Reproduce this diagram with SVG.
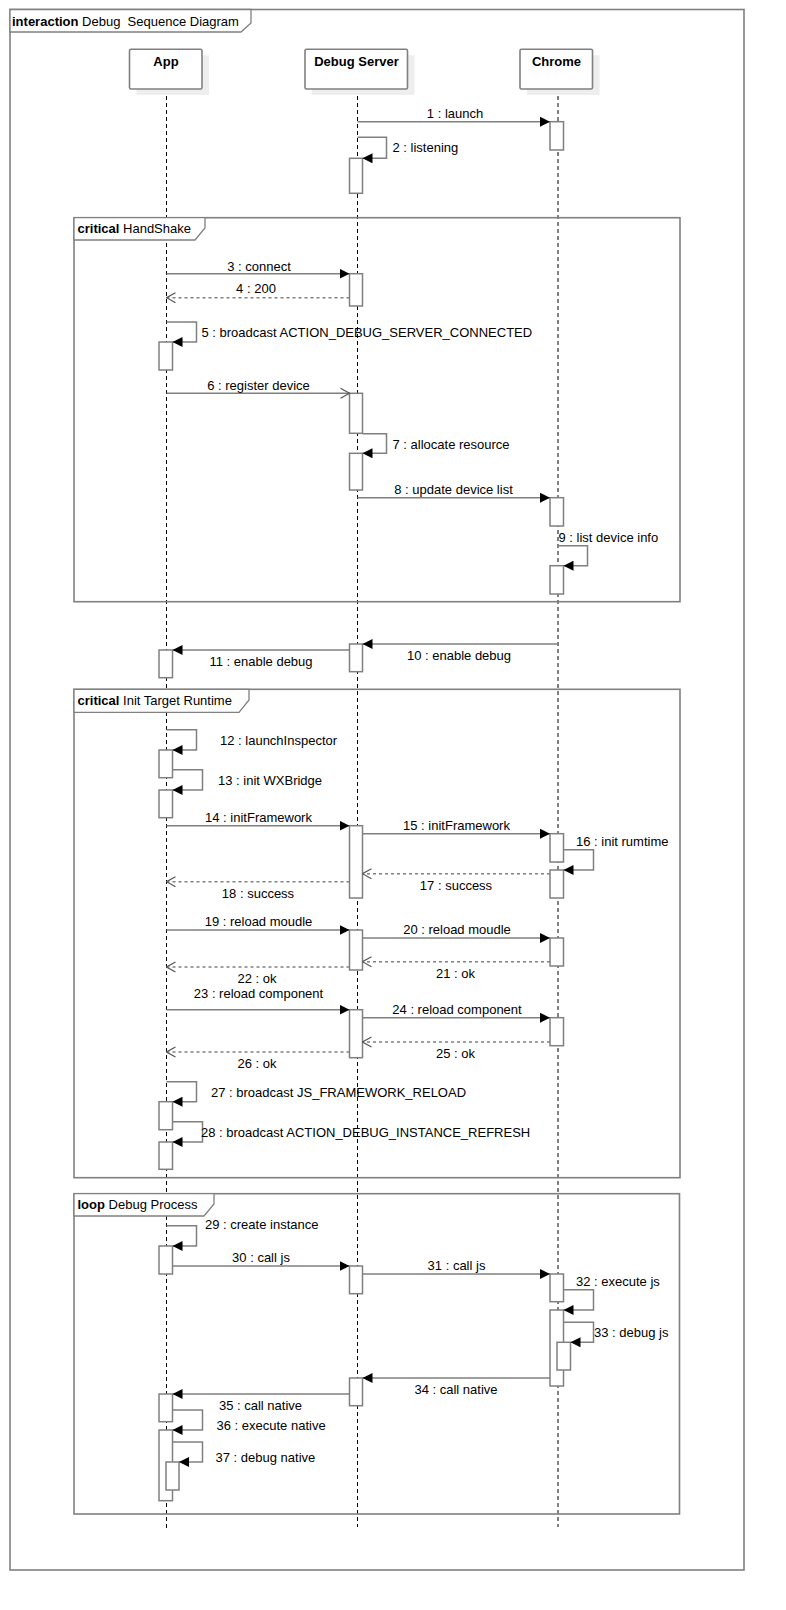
<svg xmlns="http://www.w3.org/2000/svg" width="786" height="1610" viewBox="0 0 786 1610">
<style>
text{font-family:"Liberation Sans",Arial,sans-serif;font-size:13px;fill:#000}
.b{font-weight:bold}
.c{text-anchor:middle}
.frame{fill:none;stroke:#808080;stroke-width:1.6}
.tag{fill:#fff;stroke:#808080;stroke-width:1.3}
.head{fill:#fff;stroke:#808080;stroke-width:1.6}
.shadow{fill:#eeeeee}
.life{stroke:#000;stroke-width:1;stroke-dasharray:4,3;fill:none}
.act{fill:#fff;stroke:#808080;stroke-width:1.5}
.msg{fill:none;stroke:#808080;stroke-width:1.5}
.ret{fill:none;stroke:#808080;stroke-width:1.5;stroke-dasharray:3,3}
</style>
<defs>
<marker id="fill" markerUnits="userSpaceOnUse" markerWidth="11" markerHeight="10" refX="10" refY="5" orient="auto">
<path d="M0,0 L10,5 L0,10 z" fill="#000"/>
</marker>
<marker id="open" markerUnits="userSpaceOnUse" markerWidth="11" markerHeight="12" refX="10" refY="6" orient="auto">
<path d="M1,1 L10,6 L1,11" fill="none" stroke="#555" stroke-width="1.2"/>
</marker>
</defs>
<rect width="786" height="1610" fill="#fff"/>

<g id="frame-main">
<rect class="frame" x="10" y="9.5" width="734" height="1560.5"/>
<path class="tag" d="M10,9.5 H251 V23 L241,32 H10 Z"/>
<text x="12" y="25.5" style="white-space:pre"><tspan class="b">interaction</tspan> Debug  Sequence Diagram</text>
</g>

<g id="lifelines">
<line class="life" x1="166.5" y1="89" x2="166.5" y2="1531"/>
<line class="life" x1="357.5" y1="89" x2="357.5" y2="1527"/>
<line class="life" x1="558" y1="89" x2="558" y2="1527"/>
</g>

<g id="app">
<rect class="shadow" x="136.5" y="55.3" width="72.5" height="39.7"/>
<rect class="head" x="129.5" y="49.3" width="72.5" height="39.7" rx="1.5"/>
<text class="b c" x="166" y="66">App</text>
</g>
<g id="debug-server">
<rect class="shadow" x="312" y="55.3" width="102.5" height="39.7"/>
<rect class="head" x="305" y="49.3" width="102.5" height="39.7" rx="1.5"/>
<text class="b c" x="356.5" y="66">Debug Server</text>
</g>
<g id="chrome">
<rect class="shadow" x="527" y="55.3" width="72.5" height="39.7"/>
<rect class="head" x="520" y="49.3" width="72.5" height="39.7" rx="1.5"/>
<text class="b c" x="556.5" y="66">Chrome</text>
</g>

<g id="frame-handshake">
<rect class="frame" x="74" y="217.7" width="606" height="384"/>
<path class="tag" d="M74,217.7 H205 V228 L195,240 H74 Z"/>
<text x="77.5" y="233"><tspan class="b">critical</tspan> HandShake</text>
</g>
<g id="frame-init">
<rect class="frame" x="74" y="689.3" width="606" height="488.4"/>
<path class="tag" d="M74,689.3 H249 V700 L239,712.3 H74 Z"/>
<text x="77.5" y="704.5"><tspan class="b">critical</tspan> Init Target Runtime</text>
</g>
<g id="frame-loop">
<rect class="frame" x="74" y="1193.7" width="605.5" height="320.3"/>
<path class="tag" d="M74,1193.7 H214 V1204 L204,1216 H74 Z"/>
<text x="77.5" y="1208.5"><tspan class="b">loop</tspan> Debug Process</text>
</g>

<g id="activations">
<rect class="act" x="550" y="121.7" width="13.5" height="28.3"/>
<rect class="act" x="349.5" y="158.3" width="13" height="35"/>
<rect class="act" x="349.5" y="273.7" width="13" height="32.3"/>
<rect class="act" x="159" y="342" width="13.5" height="28"/>
<rect class="act" x="349.5" y="393.3" width="13" height="40"/>
<rect class="act" x="349.5" y="453.3" width="13" height="36.7"/>
<rect class="act" x="550" y="497.7" width="13.5" height="28.3"/>
<rect class="act" x="550" y="565.7" width="13.5" height="28.3"/>
<rect class="act" x="349.5" y="644" width="13" height="27.7"/>
<rect class="act" x="159" y="650" width="13.5" height="27.7"/>
<rect class="act" x="159" y="750" width="13.5" height="27.7"/>
<rect class="act" x="159" y="790" width="13.5" height="27.7"/>
<rect class="act" x="349.5" y="825.7" width="13" height="72.3"/>
<rect class="act" x="550" y="833.7" width="13.5" height="28.3"/>
<rect class="act" x="550" y="870" width="13.5" height="28"/>
<rect class="act" x="349.5" y="930" width="13" height="40"/>
<rect class="act" x="550" y="938" width="13.5" height="28"/>
<rect class="act" x="349.5" y="1009.7" width="13" height="48"/>
<rect class="act" x="550" y="1017.7" width="13.5" height="28"/>
<rect class="act" x="159" y="1101.7" width="13.5" height="28"/>
<rect class="act" x="159" y="1142" width="13.5" height="27.3"/>
<rect class="act" x="159" y="1246" width="13.5" height="28"/>
<rect class="act" x="349.5" y="1266" width="13" height="27.7"/>
<rect class="act" x="550" y="1274" width="13.5" height="27.7"/>
<rect class="act" x="550" y="1310" width="13.5" height="76"/>
<rect class="act" x="557" y="1342.3" width="13.5" height="27.7"/>
<rect class="act" x="349.5" y="1378" width="13" height="27.7"/>
<rect class="act" x="159" y="1394" width="13.5" height="27.7"/>
<rect class="act" x="159" y="1430" width="13.5" height="70.7"/>
<rect class="act" x="166" y="1462" width="13" height="28"/>
</g>

<g id="connectors">
<line class="msg" x1="357.5" y1="121.7" x2="550" y2="121.7" marker-end="url(#fill)"/>
<polyline class="msg" points="357.5,137.3 386.5,137.3 386.5,158.3 362.5,158.3" marker-end="url(#fill)"/>
<line class="msg" x1="166.5" y1="273.7" x2="349.5" y2="273.7" marker-end="url(#fill)"/>
<line class="ret" x1="349.5" y1="297.7" x2="166.5" y2="297.7" marker-end="url(#open)"/>
<polyline class="msg" points="166.5,322 196.5,322 196.5,342 172.5,342" marker-end="url(#fill)"/>
<line class="msg" x1="166.5" y1="393.3" x2="349.5" y2="393.3" marker-end="url(#open)"/>
<polyline class="msg" points="362.5,433.7 386.5,433.7 386.5,453.3 362.5,453.3" marker-end="url(#fill)"/>
<line class="msg" x1="357.5" y1="497.7" x2="550" y2="497.7" marker-end="url(#fill)"/>
<polyline class="msg" points="558,545.7 587.5,545.7 587.5,565.7 563.5,565.7" marker-end="url(#fill)"/>
<line class="msg" x1="558" y1="644" x2="362.5" y2="644" marker-end="url(#fill)"/>
<line class="msg" x1="349.5" y1="650" x2="172.5" y2="650" marker-end="url(#fill)"/>
<polyline class="msg" points="166.5,729.7 196.5,729.7 196.5,750 172.5,750" marker-end="url(#fill)"/>
<polyline class="msg" points="172.5,769.7 202.5,769.7 202.5,790 172.5,790" marker-end="url(#fill)"/>
<line class="msg" x1="166.5" y1="825.7" x2="349.5" y2="825.7" marker-end="url(#fill)"/>
<line class="msg" x1="362.5" y1="833.7" x2="550" y2="833.7" marker-end="url(#fill)"/>
<polyline class="msg" points="563.5,849.7 593.5,849.7 593.5,870 563.5,870" marker-end="url(#fill)"/>
<line class="ret" x1="550" y1="873.7" x2="362.5" y2="873.7" marker-end="url(#open)"/>
<line class="ret" x1="349.5" y1="881.7" x2="166.5" y2="881.7" marker-end="url(#open)"/>
<line class="msg" x1="166.5" y1="930" x2="349.5" y2="930" marker-end="url(#fill)"/>
<line class="msg" x1="362.5" y1="938" x2="550" y2="938" marker-end="url(#fill)"/>
<line class="ret" x1="550" y1="961.7" x2="362.5" y2="961.7" marker-end="url(#open)"/>
<line class="ret" x1="349.5" y1="967" x2="166.5" y2="967" marker-end="url(#open)"/>
<line class="msg" x1="166.5" y1="1009.7" x2="349.5" y2="1009.7" marker-end="url(#fill)"/>
<line class="msg" x1="362.5" y1="1017.7" x2="550" y2="1017.7" marker-end="url(#fill)"/>
<line class="ret" x1="550" y1="1042" x2="362.5" y2="1042" marker-end="url(#open)"/>
<line class="ret" x1="349.5" y1="1052" x2="166.5" y2="1052" marker-end="url(#open)"/>
<polyline class="msg" points="166.5,1081.7 196.5,1081.7 196.5,1101.7 172.5,1101.7" marker-end="url(#fill)"/>
<polyline class="msg" points="172.5,1121.7 202.5,1121.7 202.5,1142 172.5,1142" marker-end="url(#fill)"/>
<polyline class="msg" points="166.5,1225.7 196.5,1225.7 196.5,1246 172.5,1246" marker-end="url(#fill)"/>
<line class="msg" x1="172.5" y1="1266" x2="349.5" y2="1266" marker-end="url(#fill)"/>
<line class="msg" x1="362.5" y1="1274" x2="550" y2="1274" marker-end="url(#fill)"/>
<polyline class="msg" points="563.5,1289.7 593.5,1289.7 593.5,1310 563.5,1310" marker-end="url(#fill)"/>
<polyline class="msg" points="563.5,1322.3 593.5,1322.3 593.5,1342.3 570.5,1342.3" marker-end="url(#fill)"/>
<line class="msg" x1="550" y1="1378" x2="362.5" y2="1378" marker-end="url(#fill)"/>
<line class="msg" x1="349.5" y1="1394" x2="172.5" y2="1394" marker-end="url(#fill)"/>
<polyline class="msg" points="172.5,1410 202.5,1410 202.5,1430 172.5,1430" marker-end="url(#fill)"/>
<polyline class="msg" points="172.5,1442 202.5,1442 202.5,1462 179,1462" marker-end="url(#fill)"/>
</g>

<g id="labels">
<text class="c" x="455" y="118.3">1 : launch</text>
<text x="392.5" y="152.3">2 : listening</text>
<text class="c" x="259" y="270.7">3 : connect</text>
<text class="c" x="256" y="293.3">4 : 200</text>
<text x="201.5" y="337.3">5 : broadcast ACTION_DEBUG_SERVER_CONNECTED</text>
<text class="c" x="258.5" y="390">6 : register device</text>
<text x="392.5" y="449.3">7 : allocate resource</text>
<text class="c" x="453.5" y="494">8 : update device list</text>
<text x="558.5" y="542.3">9 : list device info</text>
<text class="c" x="459" y="660">10 : enable debug</text>
<text class="c" x="261" y="665.5">11 : enable debug</text>
<text x="220" y="744.7">12 : launchInspector</text>
<text x="218" y="785">13 : init WXBridge</text>
<text class="c" x="258.5" y="821.7">14 : initFramework</text>
<text class="c" x="456.5" y="830">15 : initFramework</text>
<text x="576" y="846">16 : init rumtime</text>
<text class="c" x="456" y="890">17 : success</text>
<text class="c" x="258" y="898">18 : success</text>
<text class="c" x="258.5" y="926">19 : reload moudle</text>
<text class="c" x="457" y="934">20 : reload moudle</text>
<text class="c" x="455.5" y="977.7">21 : ok</text>
<text class="c" x="257" y="982.7">22 : ok</text>
<text class="c" x="258.5" y="998">23 : reload component</text>
<text class="c" x="457" y="1014">24 : reload component</text>
<text class="c" x="455.5" y="1057.7">25 : ok</text>
<text class="c" x="257" y="1067.7">26 : ok</text>
<text x="211" y="1096.7">27 : broadcast JS_FRAMEWORK_RELOAD</text>
<text x="201" y="1136.7">28 : broadcast ACTION_DEBUG_INSTANCE_REFRESH</text>
<text x="205" y="1229.3">29 : create instance</text>
<text class="c" x="261" y="1261.7">30 : call js</text>
<text class="c" x="456.5" y="1270">31 : call js</text>
<text x="576" y="1285.7">32 : execute js</text>
<text x="594" y="1337.3">33 : debug js</text>
<text class="c" x="456" y="1394">34 : call native</text>
<text class="c" x="260.5" y="1410">35 : call native</text>
<text x="216.5" y="1430">36 : execute native</text>
<text x="215.5" y="1461.7">37 : debug native</text>
</g>
</svg>
